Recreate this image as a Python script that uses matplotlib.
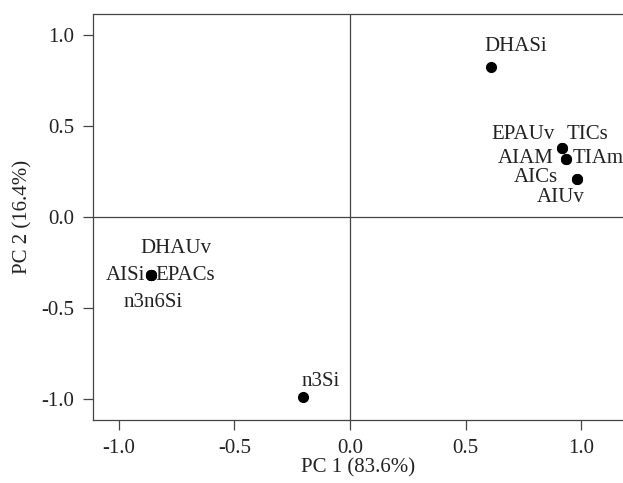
import matplotlib
matplotlib.use("Agg")
from matplotlib import pyplot as plt

plt.rcParams['font.family'] = ['Liberation Serif', 'DejaVu Serif']
plt.rcParams['axes.unicode_minus'] = False

# loadings
names = ['DHASi', 'EPAUv', 'TICs', 'AIAM', 'TIAm', 'AICs', 'AIUv',
         'DHAUv', 'AISi', 'EPACs', 'n3n6Si', 'n3Si']
pc1 = [0.608, 0.918, 0.918, 0.935, 0.935, 0.983, 0.983,
       -0.862, -0.862, -0.862, -0.862, -0.203]
pc2 = [0.824, 0.379, 0.379, 0.319, 0.319, 0.209, 0.209,
       -0.319, -0.319, -0.319, -0.319, -0.99]
ticks = [-1.0, -0.5, 0.0, 0.5, 1.0]

# label placement (offset in pixels, horizontal alignment)
label_pos = {
    'DHASi': (-6, 20, 'left'),
    'EPAUv': (-8, 14, 'right'),
    'TICs': (4, 14, 'left'),
    'AIAM': (-13, 0, 'right'),
    'TIAm': (6, 0, 'left'),
    'AICs': (-20, 1, 'right'),
    'AIUv': (-17, -19, 'center'),
    'DHAUv': (-10, 27, 'left'),
    'AISi': (-5, 0, 'right'),
    'EPACs': (5, 0, 'left'),
    'n3n6Si': (-27, -27, 'left'),
    'n3Si': (-2, 16, 'left'),
}

fig = plt.figure(figsize=(6.23, 4.83), dpi=100)
ax = fig.add_axes([0.149, 0.1304, 0.851, 0.8406])

ax.axhline(0, color='#444444', lw=0.9, zorder=1)
ax.axvline(0, color='#444444', lw=0.9, zorder=1)
ax.plot(pc1, pc2, 'o', color='black', markersize=7, zorder=3)

for n, x, y in zip(names, pc1, pc2):
    dx, dy, ha = label_pos[n]
    ax.annotate(n, (x, y), xytext=(dx, dy), textcoords='offset pixels',
                ha=ha, va='center', fontsize=15, color='#222222')

ax.set_xlim(-1.112, 1.18)
ax.set_ylim(-1.115, 1.115)
ax.set_xticks(ticks)
ax.set_yticks(ticks)
ax.set_xticklabels(['%.1f' % t for t in ticks])
ax.set_yticklabels(['%.1f' % t for t in ticks])
ax.tick_params(direction='out', length=7.5, width=0.9, labelsize=15,
               color='#444444', labelcolor='#222222', pad=6)
ax.spines['right'].set_visible(False)
for s in ['left', 'top', 'bottom']:
    ax.spines[s].set_color('#444444')
    ax.spines[s].set_linewidth(0.9)

ax.set_xlabel('PC 1 (83.6%)', fontsize=15, color='#222222', labelpad=0)
ax.set_ylabel('PC 2 (16.4%)', fontsize=15, color='#222222', labelpad=6)

fig.savefig('out.png', dpi=100)
